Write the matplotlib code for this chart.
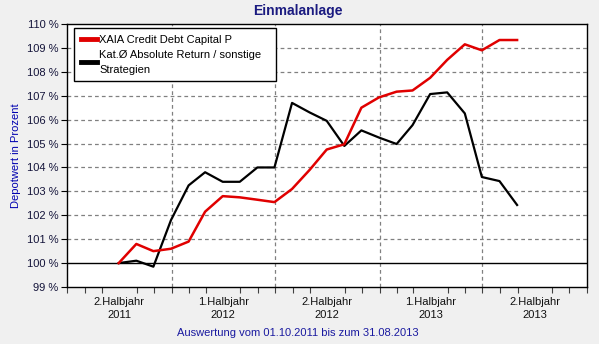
import matplotlib
matplotlib.use("Agg")
import matplotlib.pyplot as plt
import matplotlib.dates as mdates
import pandas as pd

plt.rcParams["font.family"] = ["Liberation Sans", "DejaVu Sans"]

# monthly values (end of month), Oct 2011 .. Aug 2013
dates = pd.date_range("2011-09-30", "2013-08-31", freq="ME")
xaia = [100.0, 100.8, 100.5, 100.6, 100.9, 102.15, 102.8, 102.75, 102.65, 102.55,
        103.1, 103.9, 104.75, 104.97, 106.5, 106.93, 107.17, 107.22, 107.75, 108.5,
        109.15, 108.9, 109.33, 109.33]
kat = [100.0, 100.1, 99.85, 101.8, 103.25, 103.8, 103.4, 103.4, 104.0, 104.0,
       106.7, 106.3, 105.95, 104.9, 105.55, 105.25, 104.98, 105.77, 107.07, 107.14,
       106.26, 103.6, 103.43, 102.43]
names = ["XAIA Credit Debt Capital P", "Kat.\u00d8 Absolute Return / sonstige\nStrategien"]
half_labels = ["2.Halbjahr\n2011", "1.Halbjahr\n2012", "2.Halbjahr\n2012",
               "1.Halbjahr\n2013", "2.Halbjahr\n2013"]
half_mids = pd.to_datetime(["2011-10-01", "2012-04-01", "2012-10-01", "2013-04-01", "2013-10-01"])
half_bounds = pd.to_datetime(["2012-01-01", "2012-07-01", "2013-01-01", "2013-07-01"])
y_ticks = list(range(99, 111))

BG = "#f0f0f0"
fig = plt.figure(figsize=(5.99, 3.44), dpi=100, facecolor=BG)
ax = fig.add_axes([67 / 599, 1 - 287 / 344, 520 / 599, 263 / 344])
ax.set_facecolor("white")

ax.set_xlim(pd.Timestamp("2011-07-01"), pd.Timestamp("2014-01-01"))
ax.set_ylim(99, 110)

# grid
for y in y_ticks[1:-1]:
    if y != 100:
        ax.axhline(y, color="#808080", lw=0.9, ls=(0, (3, 2.5)), zorder=1)
for xb in half_bounds:
    ax.axvline(xb, color="#808080", lw=0.9, ls=(0, (3, 2.5)), zorder=1)
ax.axhline(100, color="black", lw=1.0, zorder=2)

ax.plot(dates, xaia, color="#e00000", lw=1.8, zorder=4, label=names[0])
ax.plot(dates, kat, color="black", lw=1.6, zorder=3, label=names[1])

ax.set_yticks(y_ticks)
ax.set_yticklabels([f"{v} %" for v in y_ticks], fontsize=8, color="#14143a")
ax.tick_params(axis="y", length=4, width=0.8, pad=2)

ax.xaxis.set_minor_locator(mdates.MonthLocator(bymonthday=1))
ax.set_xticks(half_mids)
ax.set_xticklabels(half_labels, fontsize=8, color="#111111", linespacing=1.4)
ax.tick_params(axis="x", which="major", length=0, pad=7)
ax.tick_params(axis="x", which="minor", length=4, width=0.8, color="#404040")

for s in ax.spines.values():
    s.set_color("black")
    s.set_linewidth(1.0)

ax.set_ylabel("Depotwert in Prozent", fontsize=8, color="#0000b0", labelpad=4)

leg = ax.legend(loc="upper left", bbox_to_anchor=(0.0135, 0.985, 0.388, 0.0),
                mode="expand", fontsize=8,
                handlelength=1.5, handletextpad=0.15, labelspacing=0.5,
                borderpad=0.6, borderaxespad=0, fancybox=False, framealpha=1,
                edgecolor="black")
leg.get_frame().set_linewidth(1.0)
for h in leg.get_lines():
    h.set_linewidth(3.5)
for t in leg.get_texts():
    t.set_linespacing(1.55)

fig.text(298 / 599, 1 - 11 / 344, "Einmalanlage", ha="center", va="center",
         fontsize=10, fontweight="bold", color="#1a1a80")
fig.text(298 / 599, 1 - 333 / 344, "Auswertung vom 01.10.2011 bis zum 31.08.2013",
         ha="center", va="center", fontsize=8, color="#1a1aa0")

fig.savefig("out.png", dpi=100, facecolor=BG)
